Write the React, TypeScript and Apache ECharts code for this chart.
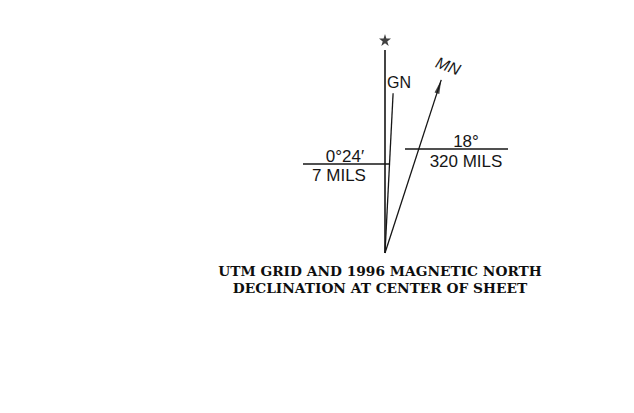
import React, { useEffect, useRef } from "react";
import * as echarts from "echarts";

// Declination diagram data
const lineNames = ["TN", "GN", "MN"];
const drawnAngles = [0, 2.9, 18]; // degrees clockwise from true north (GN exaggerated)
const lineLengths = [203, 160, 182];
const starRadius = 213;
const gnLabel = ["0°24′", "7 MILS"];
const mnLabel = ["18°", "320 MILS"];
const titleLines = ["UTM GRID AND 1996 MAGNETIC NORTH", "DECLINATION AT CENTER OF SHEET"];

const STAR =
  "path://M50,0 L61.8,35.5 L100,35.5 L69.1,57.5 L80.9,93.5 L50,71.5 L19.1,93.5 L30.9,57.5 L0,35.5 L38.2,35.5 Z";

export default function App() {
  const ref = useRef<HTMLDivElement>(null);
  useEffect(() => {
    if (!ref.current) return;
    const chart = echarts.init(ref.current, null, { renderer: "svg" });
    const ink = "#161616";
    const sans = "Liberation Sans";
    const serif = "DejaVu Serif";
    const lineSeries = lineNames.map((n, i) => ({
      type: "line",
      name: n,
      coordinateSystem: "polar",
      data: [
        [0, drawnAngles[i]],
        [lineLengths[i], drawnAngles[i]],
      ],
      showSymbol: false,
      lineStyle: { color: ink, width: i === 0 ? 1.6 : 1.3 },
      silent: true,
    }));
    const txt = (x: number, y: number, text: string, size: number, extra: any = {}) => ({
      type: "text",
      x,
      y,
      ...extra,
      style: {
        text,
        fontSize: size,
        fontFamily: sans,
        fill: ink,
        textAlign: "center",
        textVerticalAlign: "middle",
        ...(extra.style || {}),
      },
    });
    const title = (y: number, text: string) => ({
      type: "text",
      x: 380,
      y,
      style: {
        text,
        fontSize: 13.75,
        fontWeight: "bold",
        fontFamily: serif,
        fill: "#0e0e0e",
        textAlign: "center",
        textVerticalAlign: "middle",
      },
    });
    chart.setOption({
      animation: false,
      backgroundColor: "#fff",
      polar: { center: [385, 253], radius: starRadius },
      angleAxis: { type: "value", min: 0, max: 360, startAngle: 90, clockwise: true, show: false },
      radiusAxis: { type: "value", min: 0, max: starRadius, show: false },
      series: [
        ...lineSeries,
        {
          type: "scatter",
          coordinateSystem: "polar",
          data: [[starRadius, 0]],
          symbol: STAR,
          symbolSize: 12,
          itemStyle: { color: "#111" },
          silent: true,
        },
        {
          type: "scatter",
          coordinateSystem: "polar",
          data: [[lineLengths[2] - 7, drawnAngles[2]]],
          symbol: "triangle",
          symbolSize: [5, 14],
          symbolRotate: -drawnAngles[2],
          itemStyle: { color: ink },
          silent: true,
        },
      ],
      graphic: [
        { type: "line", shape: { x1: 303, y1: 164, x2: 390, y2: 164 }, style: { stroke: ink, lineWidth: 1.3 } },
        { type: "line", shape: { x1: 405, y1: 149, x2: 508, y2: 149 }, style: { stroke: ink, lineWidth: 1.3 } },
        txt(345, 156, gnLabel[0], 17),
        txt(339, 175, gnLabel[1], 17),
        txt(466, 141, mnLabel[0], 17),
        txt(466, 161, mnLabel[1], 17),
        txt(399, 82, lineNames[1], 16),
        txt(448, 66, lineNames[2], 16, { rotation: -0.36, style: { fontStyle: "italic" } }),
        title(271, titleLines[0]),
        title(288, titleLines[1]),
      ],
    });
    return () => chart.dispose();
  }, []);
  return (
    <div
      ref={ref}
      style={{ position: "fixed", left: 0, top: 0, width: 634, height: 413, background: "#fff" }}
    />
  );
}
